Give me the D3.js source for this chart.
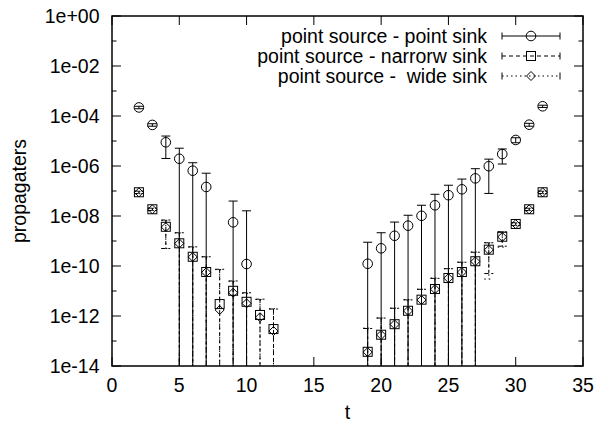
<!DOCTYPE html>
<html>
<head>
<meta charset="utf-8">
<script src="https://cdn.jsdelivr.net/npm/d3@7"></script>
<style>
  body { margin: 0; background: #fff; }
  text { font-family: 'Liberation Sans', Arial, Helvetica, sans-serif; fill: #000; }
</style>
</head>
<body>
<div id="chart"></div>
<script>
// propagater values (t, value, error)
const pointT = [2, 3, 4, 5, 6, 7, 9, 10, 19, 20, 21, 22, 23, 24, 25, 26, 27, 28, 29, 30, 31, 32];
const pointVal = [2.2e-4, 4.4e-5, 8.9e-6, 1.95e-6, 6.5e-7, 1.45e-7, 5.6e-9, 1.2e-10,
    1.23e-10, 5.1e-10, 1.62e-9, 4.1e-9, 1.02e-8, 2.69e-8, 6.8e-8, 1.17e-7, 3.2e-7, 9.8e-7, 3.0e-6, 1.1e-5, 4.5e-5, 2.45e-4];
const pointErr = [2.5e-5, 5e-6, 6.9e-6, 3.2e-6, 7e-7, 3.7e-7, 3.4e-8, 1.6e-8,
    7.7e-10, 1.63e-9, 4.1e-9, 6.6e-9, 1.67e-8, 4.7e-8, 1.02e-7, 1.83e-7, 4.6e-7, 9e-7, 1.8e-6, 2.5e-6, 6e-6, 2.5e-5];

const sinkT = [2, 3, 4, 5, 6, 7, 8, 9, 10, 11, 12, 19, 20, 21, 22, 23, 24, 25, 26, 27, 28, 29, 30, 31, 32];
const narrowVal = [8.9e-8, 1.86e-8, 3.7e-9, 8.1e-10, 2.34e-10, 5.75e-11, 3.0e-12, 1.02e-11, 3.7e-12, 1.1e-12, 3.0e-13,
    3.7e-14, 1.78e-13, 4.7e-13, 1.62e-12, 4.5e-12, 1.2e-11, 3.3e-11, 5.75e-11, 1.55e-10, 4.5e-10, 1.48e-9, 4.8e-9, 1.86e-8, 8.9e-8];
const narrowErr = [1e-8, 2e-9, 3.2e-9, 1.33e-9, 3.5e-10, 1.77e-10, 7.1e-11, 1.5e-11, 4.8e-12, 3.6e-12, 1.6e-12,
    2.8e-13, 6.5e-13, 1.57e-12, 2.8e-12, 7.2e-12, 2e-11, 4.5e-11, 8.4e-11, 2e-10, 4e-10, 8.6e-10, 6e-10, 2e-9, 1e-8];
const wideVal = [8.8e-8, 1.85e-8, 3.6e-9, 8.0e-10, 2.3e-10, 5.6e-11, 1.74e-12, 8.5e-12, 3.2e-12, 8.9e-13, 2.5e-13,
    3.6e-14, 1.75e-13, 4.6e-13, 1.6e-12, 4.4e-12, 1.18e-11, 3.25e-11, 5.7e-11, 1.52e-10, 4.4e-10, 1.45e-9, 4.7e-9, 1.84e-8, 8.8e-8];
const wideErr = [1e-8, 2e-9, 3.1e-9, 1.3e-9, 3.4e-10, 1.75e-10, 7e-11, 1.6e-11, 4.9e-12, 3.7e-12, 1.7e-12,
    2.9e-13, 6.6e-13, 1.6e-12, 2.9e-12, 7.3e-12, 2.1e-11, 4.6e-11, 8.5e-11, 2.1e-10, 4.1e-10, 8.8e-10, 6e-10, 2e-9, 1e-8];

const xTicks = [0, 5, 10, 15, 20, 25, 30, 35];
const yExponents = [0, -1, -2, -3, -4, -5, -6, -7, -8, -9, -10, -11, -12, -13, -14];
const legendLabels = ['point source - point sink', 'point source - narrorw sink', 'point source -  wide sink'];

const W = 611, H = 423;
const margin = { top: 16, right: 28, bottom: 57, left: 112 },
    width = W - margin.left - margin.right,
    height = H - margin.top - margin.bottom;
const FONT = '19.5px';

const svg = d3.select('#chart').append('svg')
    .attr('width', W)
    .attr('height', H)
    .append('g')
    .attr('transform', `translate(${margin.left},${margin.top})`);

const x = d3.scaleLinear().domain([0, 35]).range([0, width]);
const y = d3.scaleLog().domain([1e-14, 1]).range([height, 0]);

// series definitions
const series = [
    { t: pointT, v: pointVal, e: pointErr, dash: null, sym: 'circle' },
    { t: sinkT, v: narrowVal, e: narrowErr, dash: '4,3', sym: 'square' },
    { t: sinkT, v: wideVal, e: wideErr, dash: '1.5,3', sym: 'diamond' }
];

function drawSymbol(g, sym, cx, cy) { // gnuplot-like open symbols
    if (sym === 'circle') {
        g.append('circle').attr('cx', cx).attr('cy', cy).attr('r', 4.8)
            .attr('fill', 'none').attr('stroke', '#000').attr('stroke-width', 1);
    } else if (sym === 'square') {
        g.append('rect').attr('x', cx - 4.5).attr('y', cy - 4.5).attr('width', 9).attr('height', 9)
            .attr('fill', 'none').attr('stroke', '#000').attr('stroke-width', 1);
    } else {
        g.append('path').attr('d', `M${cx},${cy - 4.5}L${cx + 4.5},${cy}L${cx},${cy + 4.5}L${cx - 4.5},${cy}Z`)
            .attr('fill', 'none').attr('stroke', '#000').attr('stroke-width', 1);
    }
}

// error bars + points
series.forEach(s => {
    const g = svg.append('g');
    s.t.forEach((t, i) => {
        const cx = x(t);
        const hi = s.v[i] + s.e[i];
        const lo = s.v[i] - s.e[i];
        const yHi = y(hi);
        const yLo = lo > 1e-14 ? y(lo) : height; // run to the axis when below range
        g.append('line').attr('x1', cx).attr('x2', cx).attr('y1', yHi).attr('y2', yLo)
            .attr('stroke', '#000').attr('stroke-width', 1).attr('stroke-dasharray', s.dash);
        g.append('line').attr('x1', cx - 4.5).attr('x2', cx + 4.5).attr('y1', yHi).attr('y2', yHi)
            .attr('stroke', '#000').attr('stroke-width', 1).attr('stroke-dasharray', s.dash);
        if (lo > 1e-14) {
            g.append('line').attr('x1', cx - 4.5).attr('x2', cx + 4.5).attr('y1', yLo).attr('y2', yLo)
                .attr('stroke', '#000').attr('stroke-width', 1).attr('stroke-dasharray', s.dash);
        }
        drawSymbol(g, s.sym, cx, y(s.v[i]));
    });
});

// X axis ticks and labels (ticks inside, top and bottom)
xTicks.forEach(t => {
    svg.append('line').attr('x1', x(t)).attr('x2', x(t)).attr('y1', height).attr('y2', height - 9)
        .attr('stroke', '#000').attr('stroke-width', 1);
    svg.append('line').attr('x1', x(t)).attr('x2', x(t)).attr('y1', 0).attr('y2', 9)
        .attr('stroke', '#000').attr('stroke-width', 1);
    svg.append('text')
        .attr('x', x(t))
        .attr('y', height + 26)
        .attr('text-anchor', 'middle')
        .style('font-size', FONT)
        .text(t);
});

// Y axis ticks and labels
yExponents.forEach(k => {
    const yy = y(Math.pow(10, k));
    const major = k % 2 === 0;
    const len = major ? 9 : 4.5;
    svg.append('line').attr('x1', 0).attr('x2', len).attr('y1', yy).attr('y2', yy)
        .attr('stroke', '#000').attr('stroke-width', 1);
    svg.append('line').attr('x1', width).attr('x2', width - len).attr('y1', yy).attr('y2', yy)
        .attr('stroke', '#000').attr('stroke-width', 1);
    if (major) {
        const lab = '1e' + (k >= 0 ? '+' : '-') + String(Math.abs(k)).padStart(2, '0');
        svg.append('text')
            .attr('x', -12.5)
            .attr('y', yy)
            .attr('dy', '0.35em')
            .attr('text-anchor', 'end')
            .style('font-size', FONT)
            .text(lab);
    }
});

// plot border
svg.append('rect')
    .attr('x', 0).attr('y', 0)
    .attr('width', width).attr('height', height)
    .attr('fill', 'none').attr('stroke', '#000').attr('stroke-width', 1.5);

// axis labels
svg.append('text')
    .attr('x', width / 2)
    .attr('y', height + 53)
    .attr('text-anchor', 'middle')
    .style('font-size', FONT)
    .text('t');

svg.append('text')
    .attr('transform', `translate(${-margin.left + 26},${height / 2}) rotate(-90)`)
    .attr('text-anchor', 'middle')
    .style('font-size', FONT)
    .text('propagaters');

// legend
const legend = svg.append('g');
legendLabels.forEach((lab, i) => {
    const by = 27 + i * 20; // baseline inside plot coords
    const ly = by - 7;
    const s = series[i];
    legend.append('text')
        .attr('x', 487 - margin.left)
        .attr('y', by)
        .attr('text-anchor', 'end')
        .style('font-size', FONT)
        .style('white-space', 'pre') // keep the double space
        .text(lab);
    const x0 = 502 - margin.left, x1 = 560 - margin.left;
    legend.append('line').attr('x1', x0).attr('x2', x1).attr('y1', ly).attr('y2', ly)
        .attr('stroke', '#000').attr('stroke-width', 1).attr('stroke-dasharray', s.dash);
    [x0, x1].forEach(xx => {
        legend.append('line').attr('x1', xx).attr('x2', xx).attr('y1', ly - 3.5).attr('y2', ly + 3.5)
            .attr('stroke', '#000').attr('stroke-width', 1);
    });
    drawSymbol(legend, s.sym, (x0 + x1) / 2, ly);
});
</script>
</body>
</html>
